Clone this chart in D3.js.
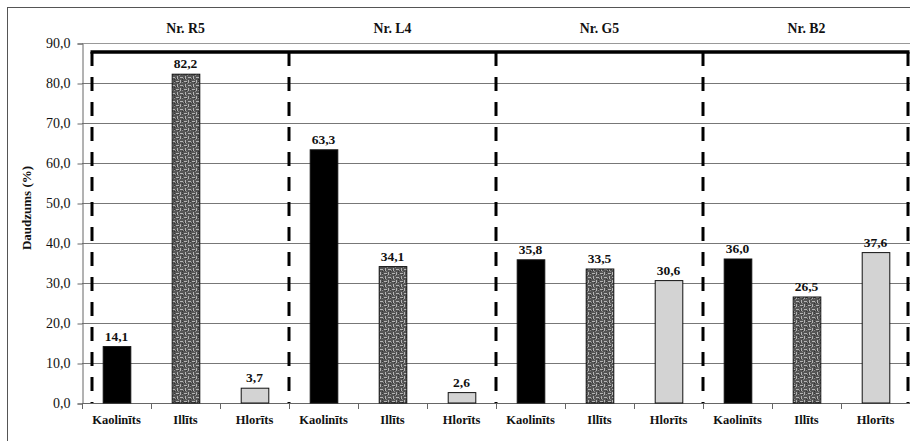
<!DOCTYPE html>
<html>
<head>
<meta charset="utf-8">
<script src="https://cdn.jsdelivr.net/npm/d3@7"></script>
<style>
  html, body { margin: 0; padding: 0; background: #fff; }
  svg { display: block; }
  text { font-family: "Liberation Serif", "Times New Roman", serif; fill: #111; }
</style>
</head>
<body>
<svg id="chart" width="910" height="441"></svg>
<script>
// Clay mineral composition by sample
const samples = ["Nr. R5", "Nr. L4", "Nr. G5", "Nr. B2"];
const minerals = ["Kaolinīts", "Illīts", "Hlorīts"];
const kaolinite = [14.1, 63.3, 35.8, 36.0];
const illite = [82.2, 34.1, 33.5, 26.5];
const chlorite = [3.7, 2.6, 30.6, 37.6];
const yTicks = [0, 10, 20, 30, 40, 50, 60, 70, 80, 90];
const bracketLevel = 87.75;

const seriesByMineral = [kaolinite, illite, chlorite];
const rows = [];
samples.forEach((s, si) => {
  minerals.forEach((m, mi) => {
    rows.push({ key: s + "|" + m, sample: s, mineral: m, mi, value: seriesByMineral[mi][si] });
  });
});

const svg = d3.select("#chart");
const W = 910, H = 441;
const margin = { left: 82, right: 0, top: 43, bottom: 38 };
const plotR = W - margin.right, plotB = H - margin.bottom;
const fmt = v => d3.format(".1f")(v).replace(".", ",");

// Outer frame
svg.append("rect")
  .attr("x", 7.5).attr("y", 7.5)
  .attr("width", W).attr("height", H)
  .attr("fill", "none").attr("stroke", "#555").attr("stroke-width", 1);

// Woven texture for the illite bars
const defs = svg.append("defs");
const pat = defs.append("pattern")
  .attr("id", "weave").attr("patternUnits", "userSpaceOnUse")
  .attr("width", 8).attr("height", 8);
pat.append("rect").attr("width", 8).attr("height", 8).attr("fill", "#555");
[[0, 1, 3, 1], [4, 0, 1, 3], [4, 5, 3, 1], [1, 4, 1, 3]].forEach(([x, y, w, h]) => {
  pat.append("rect").attr("x", x).attr("y", y).attr("width", w).attr("height", h).attr("fill", "#b4b4b4");
});
[[6, 2], [2, 7], [7, 6], [3, 3]].forEach(([x, y]) => {
  pat.append("rect").attr("x", x).attr("y", y).attr("width", 1).attr("height", 1).attr("fill", "#8c8c8c");
});
[[6, 1], [0, 6], [2, 2], [6, 7]].forEach(([x, y]) => {
  pat.append("rect").attr("x", x).attr("y", y).attr("width", 1).attr("height", 1).attr("fill", "#333");
});

const x = d3.scaleBand()
  .domain(rows.map(d => d.key))
  .range([margin.left, plotR])
  .paddingInner(0.6).paddingOuter(0.3);
const step = x.step();

const y = d3.scaleLinear().domain([0, 90]).range([plotB, margin.top]);

// Horizontal gridlines
svg.append("g").selectAll("line").data(yTicks.filter(t => t > 0)).join("line")
  .attr("x1", margin.left).attr("x2", plotR)
  .attr("y1", d => Math.round(y(d)) + 0.5).attr("y2", d => Math.round(y(d)) + 0.5)
  .attr("stroke", d => d === 90 ? "#999" : "#777").attr("stroke-width", 1);

// Y axis
const yAxis = d3.axisLeft(y).tickValues(yTicks)
  .tickFormat(fmt)
  .tickSize(5).tickPadding(7);
const gy = svg.append("g").attr("transform", `translate(${margin.left + 0.5},0.5)`).call(yAxis);
gy.select(".domain").attr("stroke", "#666");
gy.selectAll(".tick line").attr("stroke", "#666");
gy.selectAll(".tick text").attr("font-size", 14).attr("fill", "#222")
  .attr("font-family", "Liberation Serif, serif");

// X axis baseline with ticks at category boundaries
svg.append("line")
  .attr("x1", margin.left).attr("x2", plotR)
  .attr("y1", Math.round(plotB) + 0.5).attr("y2", Math.round(plotB) + 0.5)
  .attr("stroke", "#666");
const boundaries = d3.range(rows.length + 1).map(i => margin.left + i * step);
svg.append("g").selectAll("line").data(boundaries).join("line")
  .attr("x1", d => Math.round(d) + 0.5).attr("x2", d => Math.round(d) + 0.5)
  .attr("y1", plotB).attr("y2", plotB + 6)
  .attr("stroke", "#666");

// Category labels
svg.append("g").selectAll("text").data(rows).join("text")
  .attr("x", d => x(d.key) + x.bandwidth() / 2)
  .attr("y", plotB + 21)
  .attr("text-anchor", "middle")
  .attr("font-size", 12.5).attr("font-weight", "bold")
  .text(d => d.mineral);

// Sample group brackets (thick top line with dashed separators)
const groupW = step * minerals.length;
const seps = d3.range(samples.length + 1).map(i => margin.left + i * groupW);
seps[0] += 10;
seps[seps.length - 1] -= 2;
const yb = y(bracketLevel);
svg.append("line")
  .attr("x1", seps[0] - 1.5).attr("x2", seps[seps.length - 1] + 1.5)
  .attr("y1", yb).attr("y2", yb)
  .attr("stroke", "#000").attr("stroke-width", 3.5);
svg.append("g").selectAll("line").data(seps).join("line")
  .attr("x1", d => d).attr("x2", d => d)
  .attr("y1", yb).attr("y2", plotB)
  .attr("stroke", "#000").attr("stroke-width", 3)
  .attr("stroke-dasharray", "14,11");

// Sample headers
svg.append("g").selectAll("text").data(samples).join("text")
  .attr("x", (d, i) => margin.left + (i + 0.5) * groupW)
  .attr("y", 33)
  .attr("text-anchor", "middle")
  .attr("font-size", 13.8).attr("font-weight", "bold")
  .text(d => d);

// Bars
const fills = ["#000", "url(#weave)", "#d3d3d3"];
svg.append("g").selectAll("rect").data(rows).join("rect")
  .attr("x", d => x(d.key) + 0.5)
  .attr("y", d => y(d.value))
  .attr("width", x.bandwidth())
  .attr("height", d => y(0) - y(d.value))
  .attr("fill", d => fills[d.mi])
  .attr("stroke", "#111").attr("stroke-width", 1);

// Value labels
svg.append("g").selectAll("text").data(rows).join("text")
  .attr("x", d => x(d.key) + x.bandwidth() / 2)
  .attr("y", d => y(d.value) - 6)
  .attr("text-anchor", "middle")
  .attr("font-size", 13.5).attr("font-weight", "bold")
  .text(d => fmt(d.value));

// Y axis title
svg.append("text")
  .attr("transform", `translate(31,${(margin.top + plotB) / 2 - 15}) rotate(-90)`)
  .attr("text-anchor", "middle")
  .attr("font-size", 13).attr("font-weight", "bold")
  .text("Daudzums (%)");
</script>
</body>
</html>
